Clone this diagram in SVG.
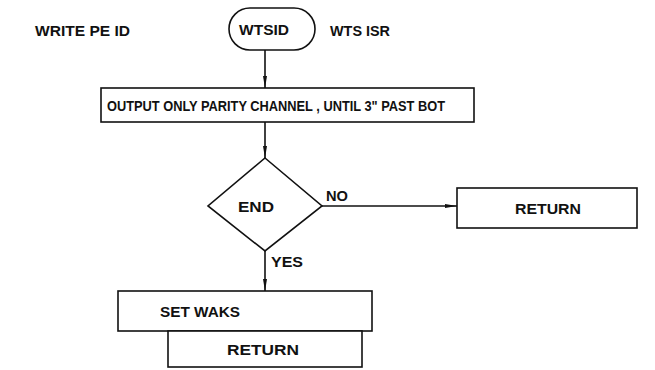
<svg xmlns="http://www.w3.org/2000/svg" width="655" height="370" viewBox="0 0 655 370">
<style>
.t{font-family:"Liberation Sans",Arial,sans-serif;font-size:15px;font-weight:bold;fill:#111;}
.s{fill:#fff;stroke:#111;stroke-width:1.6;}
.c{fill:none;stroke:#111;stroke-width:1.6;}
</style>
<defs>
<marker id="ah" viewBox="0 0 12 6" refX="12" refY="3" markerWidth="13" markerHeight="6" markerUnits="userSpaceOnUse" orient="auto">
<path d="M0,1 L12,3 L0,5 Z" fill="#111"/>
</marker>
</defs>
<rect width="655" height="370" fill="#fff"/>
<text class="t" x="35" y="36" textLength="95" lengthAdjust="spacingAndGlyphs">WRITE PE ID</text>
<text class="t" x="330" y="36" textLength="60" lengthAdjust="spacingAndGlyphs">WTS ISR</text>
<g id="connectors">
<path class="c" d="M265,50 V88" marker-end="url(#ah)"/>
<path class="c" d="M265,122 V158" marker-end="url(#ah)"/>
<path class="c" d="M322,206 H457" marker-end="url(#ah)"/>
<path class="c" d="M265,251 V291" marker-end="url(#ah)"/>
<text class="t" x="326" y="201" textLength="22" lengthAdjust="spacingAndGlyphs">NO</text>
<text class="t" x="271" y="267" textLength="32" lengthAdjust="spacingAndGlyphs">YES</text>
</g>
<g id="wtsid">
<rect class="s" x="229" y="8" width="86" height="42" rx="21"/>
<text class="t" x="264" y="35" text-anchor="middle" textLength="50" lengthAdjust="spacingAndGlyphs">WTSID</text>
</g>
<g id="output">
<rect class="s" x="101" y="88" width="373" height="34"/>
<text class="t" x="107" y="111" textLength="338" lengthAdjust="spacingAndGlyphs">OUTPUT ONLY PARITY CHANNEL , UNTIL 3" PAST BOT</text>
</g>
<g id="end">
<path class="s" d="M265,158 L322,206 L265,251 L208,206 Z"/>
<text class="t" x="256" y="212" text-anchor="middle" textLength="36" lengthAdjust="spacingAndGlyphs">END</text>
</g>
<g id="return1">
<rect class="s" x="457" y="188" width="180" height="40"/>
<text class="t" x="548" y="214" text-anchor="middle" textLength="66" lengthAdjust="spacingAndGlyphs">RETURN</text>
</g>
<g id="setwaks">
<rect class="s" x="118" y="291" width="254" height="40"/>
<text class="t" x="200" y="317" text-anchor="middle" textLength="80" lengthAdjust="spacingAndGlyphs">SET WAKS</text>
</g>
<g id="return2">
<rect class="s" x="168" y="331" width="194" height="36"/>
<text class="t" x="263" y="355" text-anchor="middle" textLength="72" lengthAdjust="spacingAndGlyphs">RETURN</text>
</g>
</svg>
